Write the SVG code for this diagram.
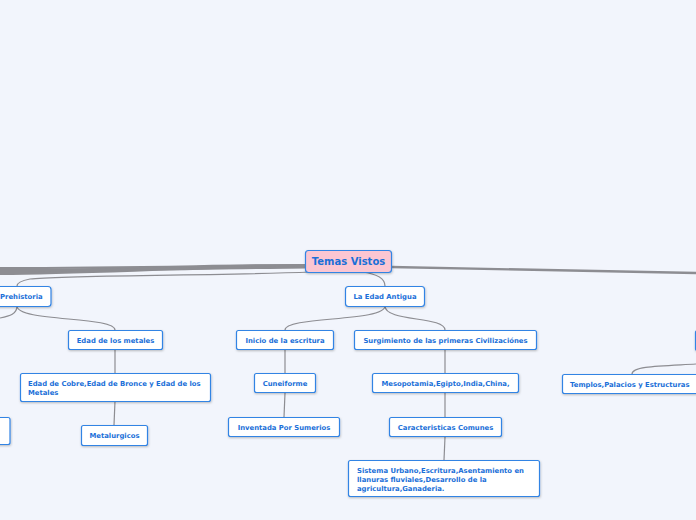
<svg xmlns="http://www.w3.org/2000/svg" width="696" height="520" viewBox="0 0 696 520">
<defs>
<filter id="sh" x="-10%" y="-20%" width="120%" height="150%"><feDropShadow dx="0.5" dy="1" stdDeviation="0.8" flood-color="#000" flood-opacity="0.25"/></filter>
</defs>
<style>
.n{fill:#fff;stroke:#3384e4;stroke-width:1.2;filter:url(#sh)}
.t{font-family:"DejaVu Sans",Verdana,sans-serif;font-weight:bold;font-size:6.85px;fill:#1a6fd8}
.c{text-anchor:middle}
.l{fill:none;stroke:#8d8d92;stroke-width:1.2}
.k{fill:none;stroke:#8d8d92}
</style>
<rect width="696" height="520" fill="#f2f5fc"/>
<g id="connectors">
<path class="k" stroke-width="4" d="M306,266 C200,266 100,272 0,273"/>
<path class="k" stroke-width="3" d="M306,267 C200,268 100,270 0,270"/>
<path class="k" stroke-width="2" d="M306,265 C220,265 150,268 0,268"/>
<path class="k" stroke-width="2.4" d="M391,267 C500,270 600,272 696,273"/>
<path class="l" d="M312,272 C200,276 60,275 30,279 C20,281 17,284 17,286"/>
<path class="l" d="M362,272 C378,274 385,279 385,286"/>
<path class="l" d="M17,306 C17,314 10,316 0,318"/>
<path class="l" d="M17,306 C17,322 115,316 115,330"/>
<path class="l" d="M115,349 L115,373"/>
<path class="l" d="M115,401 L114,425"/>
<path class="l" d="M385,306 C385,322 285,316 285,330"/>
<path class="l" d="M385,306 C385,322 445,316 445,330"/>
<path class="l" d="M285,349 L285,373"/>
<path class="l" d="M285,393 L284,417"/>
<path class="l" d="M445,349 L445,373"/>
<path class="l" d="M445,393 L445,417"/>
<path class="l" d="M445,437 L444,460"/>
<path class="l" d="M632,374 C632,366 660,366 696,364"/>
</g>
<g id="n-temas"><rect x="305.5" y="250.5" width="86" height="22" rx="3" fill="#fbc6d2" stroke="#3384e4" stroke-width="1.2" filter="url(#sh)"/><text class="t c" x="348.5" y="265" style="font-size:10px">Temas Vistos</text></g>
<g id="n-prehistoria"><rect class="n" x="-20" y="286.5" width="71" height="20" rx="3"/><text class="t" x="0" y="299">Prehistoria</text></g>
<g id="n-metales"><rect class="n" x="68.5" y="330.5" width="94" height="19" rx="2"/><text class="t c" x="115.5" y="342.5">Edad de los metales</text></g>
<g id="n-cobre"><rect class="n" x="20.5" y="373.5" width="190" height="28" rx="2"/><text class="t" x="28" y="386">Edad de Cobre,Edad de Bronce y Edad de los</text><text class="t" x="28" y="394.5">Metales</text></g>
<g id="n-metalurgicos"><rect class="n" x="81.5" y="425.5" width="66" height="20" rx="2"/><text class="t c" x="114.5" y="438">Metalurgicos</text></g>
<g id="n-left"><rect class="n" x="-20" y="417.5" width="30" height="27" rx="2"/></g>
<g id="n-antigua"><rect class="n" x="345.5" y="286.5" width="79" height="20" rx="3"/><text class="t c" x="385" y="299">La Edad Antigua</text></g>
<g id="n-inicio"><rect class="n" x="236.5" y="330.5" width="97" height="19" rx="2"/><text class="t c" x="285" y="342.5">Inicio de la escritura</text></g>
<g id="n-surg"><rect class="n" x="354.5" y="330.5" width="182" height="19" rx="2"/><text class="t c" x="445.5" y="342.5">Surgimiento de las primeras Civilizaciónes</text></g>
<g id="n-cuneiforme"><rect class="n" x="254.5" y="373.5" width="61" height="19" rx="2"/><text class="t c" x="285" y="385.5">Cuneiforme</text></g>
<g id="n-inventada"><rect class="n" x="228.5" y="417.5" width="111" height="19" rx="2"/><text class="t c" x="284" y="429.5">Inventada Por Sumerios</text></g>
<g id="n-meso"><rect class="n" x="372.5" y="373.5" width="146" height="19" rx="2"/><text class="t c" x="445.5" y="385.5">Mesopotamia,Egipto,India,China,</text></g>
<g id="n-carac"><rect class="n" x="389.5" y="417.5" width="112" height="19" rx="2"/><text class="t c" x="445.5" y="429.5">Caracteristicas Comunes</text></g>
<g id="n-sistema"><rect class="n" x="348.5" y="460.5" width="191" height="36" rx="2"/><text class="t" x="357" y="472.5">Sistema Urbano,Escritura,Asentamiento en</text><text class="t" x="357" y="481.5">llanuras fluviales,Desarrollo de la</text><text class="t" x="357" y="490.5">agricultura,Ganaderia.</text></g>
<g id="n-templos"><rect class="n" x="562.5" y="374.5" width="140" height="19" rx="2"/><text class="t" x="570" y="386.5">Templos,Palacios y Estructuras</text></g>
<g id="n-right"><rect class="n" x="695.5" y="330.5" width="30" height="20" rx="2"/></g>
</svg>
